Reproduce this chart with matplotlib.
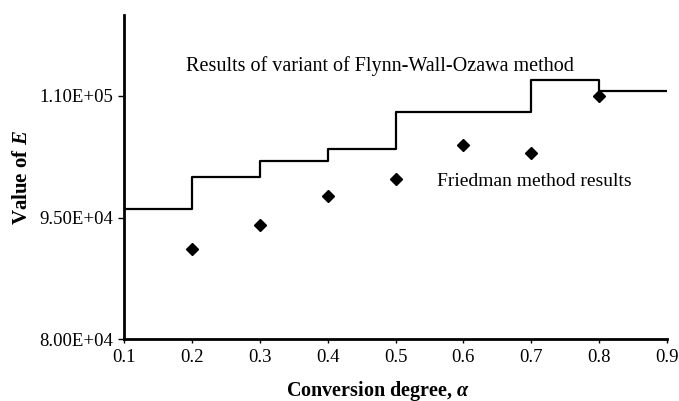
import matplotlib
matplotlib.use("Agg")
import matplotlib.pyplot as plt

# Data
fwo_edges = [0.1, 0.2, 0.3, 0.4, 0.5, 0.7, 0.8, 0.9]
fwo_values = [96100, 99960, 101980, 103470, 108020, 111930, 110620]
friedman_alpha = [0.2, 0.3, 0.4, 0.5, 0.6, 0.7, 0.8]
friedman_E = [91070, 94130, 97680, 99750, 104000, 102930, 109950]
x_ticks = [0.1, 0.2, 0.3, 0.4, 0.5, 0.6, 0.7, 0.8, 0.9]
y_ticks = [80000, 95000, 110000]
y_tick_labels = ["8.00E+04", "9.50E+04", "1.10E+05"]

plt.rcParams['font.family'] = ['Liberation Serif', 'DejaVu Serif']
plt.rcParams['mathtext.fontset'] = 'custom'
plt.rcParams['mathtext.it'] = 'Liberation Serif:italic:bold'
plt.rcParams['mathtext.rm'] = 'Liberation Serif:bold'

fig = plt.figure(figsize=(6.79, 4.01), dpi=100)
ax = fig.add_axes([0.183, 0.1546, 0.799, 0.808])

ax.step(fwo_edges, fwo_values + [fwo_values[-1]], where='post', color='black', lw=1.6)
ax.plot(friedman_alpha, friedman_E, linestyle='none', marker='D', color='black', markersize=6)

ax.set_xlim(0.1, 0.9)
ax.set_ylim(80000, 120000)
ax.set_xticks(x_ticks)
ax.set_xticklabels([f"{v:.1f}" for v in x_ticks])
ax.set_yticks(y_ticks)
ax.set_yticklabels(y_tick_labels)

for s in ['top', 'right']:
    ax.spines[s].set_visible(False)
for s in ['left', 'bottom']:
    ax.spines[s].set_linewidth(2)
ax.tick_params(axis='both', labelsize=13.5, colors='black', width=1, direction='out')
ax.tick_params(axis='y', length=4, pad=4)
ax.tick_params(axis='x', length=3, pad=4)

ax.set_xlabel(r"Conversion degree, $\alpha$", fontsize=14.5, fontweight='bold')
ax.set_ylabel(r"Value of $E$", fontsize=15, fontweight='bold')
ax.xaxis.set_label_coords(0.467, -0.122)
ax.yaxis.set_label_coords(-0.170, 0.497)

ax.text(0.477, 113640, "Results of variant of Flynn-Wall-Ozawa method",
        fontsize=14.5, ha='center', va='center')
ax.text(0.705, 99410, "Friedman method results", fontsize=14, ha='center', va='center')

fig.savefig("out.png", dpi=100)
